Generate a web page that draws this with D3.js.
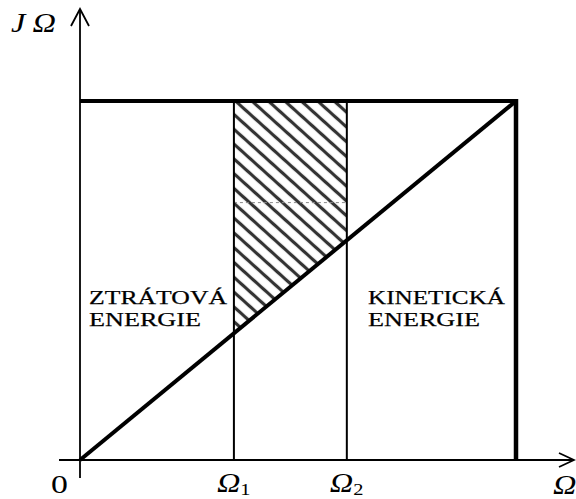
<!DOCTYPE html>
<html>
<head>
<meta charset="utf-8">
<script src="https://cdn.jsdelivr.net/npm/d3@7/dist/d3.min.js"></script>
<style>
  html, body { margin: 0; padding: 0; background: #fff; }
  svg { display: block; }
  text { font-family: "Liberation Serif", "Times New Roman", serif; fill: #000; }
</style>
</head>
<body>
<svg id="chart" width="576" height="499"></svg>
<script>
// Angular speed axis (relative to the final speed) and J·Ω axis (relative)
const omegaMax = 1.0;
const jOmegaMax = 1.0;
// Speeds Ω1 and Ω2 bounding the shaded band
const markSubscripts = ["1", "2"];
const markValues = [0.353, 0.612];
// Level of the faint dashed line inside the band
const dashedLevel = 0.717;
// Region captions
const lossCaption = ["ZTRÁTOVÁ", "ENERGIE"];
const kineticCaption = ["KINETICKÁ", "ENERGIE"];

const svg = d3.select("#chart");

const x = d3.scaleLinear().domain([0, omegaMax]).range([80, 516]);
const y = d3.scaleLinear().domain([0, jOmegaMax]).range([460, 101]);

// Wide lettering: text scaled horizontally around its anchor
function wideText(px, py, sx = 1.3) {
  return svg.append("g").attr("transform", `translate(${px},${py}) scale(${sx},1)`)
    .append("text").attr("x", 0).attr("y", 0);
}

// Hatch pattern: "\" stripes
const defs = svg.append("defs");
const pat = defs.append("pattern")
  .attr("id", "hatch")
  .attr("patternUnits", "userSpaceOnUse")
  .attr("width", 11).attr("height", 11)
  .attr("patternTransform", "rotate(42)");
pat.append("rect").attr("width", 11).attr("height", 11).attr("fill", "#fff");
pat.append("line")
  .attr("x1", -1).attr("y1", 5.5).attr("x2", 12).attr("y2", 5.5)
  .attr("stroke", "#333").attr("stroke-width", 3.2);

// Shaded band between Ω1 and Ω2, from the top line down to the diagonal
const [w1, w2] = markValues;
const band = [
  [w1, jOmegaMax], [w2, jOmegaMax], [w2, w2 / omegaMax * jOmegaMax], [w1, w1 / omegaMax * jOmegaMax]
];
svg.append("path")
  .attr("d", d3.line().x(d => x(d[0])).y(d => y(d[1]))(band) + "Z")
  .attr("fill", "url(#hatch)");

// Faint dashed line across the band
svg.append("line")
  .attr("x1", x(w1)).attr("x2", x(w2))
  .attr("y1", y(dashedLevel)).attr("y2", y(dashedLevel))
  .attr("stroke", "#888").attr("stroke-width", 1).attr("stroke-dasharray", "3,3");

// Axes with open arrowheads
const axisG = svg.append("g").attr("stroke", "#000").attr("fill", "none");
axisG.append("line").attr("x1", x(0)).attr("x2", x(0)).attr("y1", 478).attr("y2", 9).attr("stroke-width", 1.8);
axisG.append("path").attr("d", `M${x(0) - 9},${26} L${x(0)},${9} L${x(0) + 9},${26}`).attr("stroke-width", 1.8);
axisG.append("line").attr("x1", 59).attr("x2", 574).attr("y1", y(0)).attr("y2", y(0)).attr("stroke-width", 1.8);
axisG.append("path").attr("d", `M${559},${y(0) - 7} L${574},${y(0)} L${559},${y(0) + 7}`).attr("stroke-width", 1.8);

// Vertical lines at Ω1, Ω2
svg.selectAll("line.mark").data(markValues).join("line")
  .attr("class", "mark")
  .attr("x1", d => x(d)).attr("x2", d => x(d))
  .attr("y1", y(jOmegaMax)).attr("y2", y(0))
  .attr("stroke", "#000").attr("stroke-width", 2);

// Top line (J·Ω = const), right edge and diagonal
svg.append("line")
  .attr("x1", x(0)).attr("x2", x(omegaMax) + 2)
  .attr("y1", y(jOmegaMax)).attr("y2", y(jOmegaMax))
  .attr("stroke", "#000").attr("stroke-width", 4);
svg.append("line")
  .attr("x1", x(omegaMax)).attr("x2", x(omegaMax))
  .attr("y1", y(jOmegaMax) - 2).attr("y2", y(0))
  .attr("stroke", "#000").attr("stroke-width", 4.5);
svg.append("line")
  .attr("x1", x(0)).attr("y1", y(0))
  .attr("x2", x(omegaMax)).attr("y2", y(jOmegaMax))
  .attr("stroke", "#000").attr("stroke-width", 4);

// Axis labels
const jo = wideText(11, 32, 1.2).attr("font-size", 27).attr("font-style", "italic");
jo.append("tspan").text("J");
jo.append("tspan").attr("dx", 6).text("Ω");

wideText(51, 493).attr("font-size", 26).text("0");

markValues.forEach((d, i) => {
  const t = wideText(x(d) - 17, 492, 1.2).attr("font-size", 27).attr("font-style", "italic");
  t.append("tspan").text("Ω");
  t.append("tspan").attr("font-size", 17).attr("font-style", "normal")
    .attr("dy", 3).attr("dx", 0).text(markSubscripts[i]);
});

wideText(553, 494, 1.2).attr("font-size", 27).attr("font-style", "italic").text("Ω");

// Region captions (wide serif lettering)
function caption(lines, x0, widths) {
  svg.append("g").selectAll("text").data(lines).join("text")
    .attr("x", x0).attr("y", (d, i) => 304 + i * 22)
    .attr("font-size", 19.5)
    .attr("stroke", "#000").attr("stroke-width", 0.25)
    .attr("textLength", (d, i) => widths[i]).attr("lengthAdjust", "spacingAndGlyphs")
    .text(d => d);
}
caption(lossCaption, 89, [138, 112]);
caption(kineticCaption, 368, [137, 112]);
</script>
</body>
</html>
